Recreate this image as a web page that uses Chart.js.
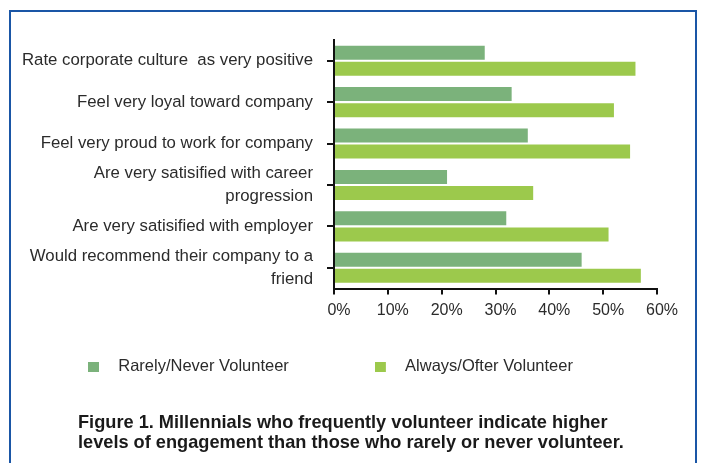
<!DOCTYPE html>
<html>
<head>
<meta charset="utf-8">
<script src="https://cdn.jsdelivr.net/npm/chart.js@4.4.1/dist/chart.umd.min.js"></script>
<style>
  html, body { margin: 0; padding: 0; background: #fff; }
  #frame { position: absolute; left: 9px; top: 10px; width: 688px; height: 520px; box-sizing: border-box; border: 2px solid #1a56a6; }
  #chart { position: absolute; left: 0; top: 0; }
</style>
</head>
<body>
<div id="frame"></div>
<canvas id="chart" width="701" height="463"></canvas>
<script>
const categories = [
  'Rate corporate culture  as very positive',
  'Feel very loyal toward company',
  'Feel very proud to work for company',
  ['Are very satisified with career', 'progression'],
  'Are very satisified with employer',
  ['Would recommend their company to a', 'friend'],
]
const rarelyNever = [28, 33, 36, 21, 32, 46]
const alwaysOften = [56, 52, 55, 37, 51, 57]
const seriesNames = ['Rarely/Never Volunteer', 'Always/Ofter Volunteer']
const seriesColors = ['#7bb27b', '#9cc94c']
const xTicks = [0, 10, 20, 30, 40, 50, 60]
const caption = [
  'Figure 1. Millennials who frequently volunteer indicate higher',
  'levels of engagement than those who rarely or never volunteer.',
]

const FONT = "'Liberation Sans', Arial, sans-serif"
const TEXT = '#2b2b2b'

// legend swatch: small square on the left of a wider transparent box,
// so the label text sits further from the square (as in the original)
function swatch(color) {
  const c = document.createElement('canvas')
  c.width = 22
  c.height = 10
  const g = c.getContext('2d')
  g.fillStyle = color
  g.fillRect(0, 0, 11, 10)
  return c
}

// legend and caption are placed by hand: the legend sits closer to the axis
// than Chart.js would put it, and the caption is indented past the y labels
const placeBoxes = {
  id: 'placeBoxes',
  afterLayout(chart) {
    const lg = chart.legend
    lg.left = 2
    lg.right = chart.width
    lg.top = 272.25
    lg.bottom = lg.top + 120
    chart.titleBlock.left = 78
  },
}

new Chart(document.getElementById('chart'), {
  type: 'bar',
  data: {
    labels: categories,
    datasets: [
      { label: seriesNames[0], data: rarelyNever, backgroundColor: seriesColors[0] },
      { label: seriesNames[1], data: alwaysOften, backgroundColor: seriesColors[1] },
    ],
  },
  plugins: [placeBoxes],
  options: {
    indexAxis: 'y',
    responsive: false,
    animation: false,
    categoryPercentage: 0.773,
    barPercentage: 0.875,
    layout: { padding: { left: 0, top: 40, right: 44, bottom: 0 } },
    plugins: {
      tooltip: { enabled: false },
      legend: {
        position: 'bottom',
        align: 'start',
        maxHeight: 50,
        labels: {
          color: TEXT,
          font: { family: FONT, size: 16.5 },
          usePointStyle: true,
          pointStyleWidth: 22,
          padding: 86,
          generateLabels(chart) {
            const items = Chart.defaults.plugins.legend.labels.generateLabels(chart)
            items.forEach((it, i) => { it.pointStyle = swatch(seriesColors[i]) })
            return items
          },
        },
      },
      title: {
        display: true,
        position: 'bottom',
        align: 'start',
        text: caption,
        color: '#1a1a1a',
        font: { family: FONT, size: 18.2, weight: 'bold', lineHeight: 20 / 18.2 },
        padding: { top: 43.5, bottom: 10 },
      },
    },
    scales: {
      y: {
        afterFit(scale) { scale.width = 334 },
        grid: { offset: false, drawOnChartArea: false, drawTicks: true, tickLength: 7, color: '#111', lineWidth: 2 },
        border: { display: true, color: '#111', width: 2 },
        ticks: {
          autoSkip: false,
          padding: 14,
          color: TEXT,
          font: { family: FONT, size: 16.8, lineHeight: 1.4 },
        },
      },
      x: {
        min: xTicks[0],
        max: xTicks[xTicks.length - 1],
        afterFit(scale) { scale.height = 31 },
        afterBuildTicks(scale) { scale.ticks = xTicks.map(v => ({ value: v })) },
        grid: { drawOnChartArea: false, drawTicks: true, tickLength: 6, color: '#111', lineWidth: 2 },
        border: { display: true, color: '#111', width: 2 },
        ticks: {
          padding: 6,
          labelOffset: 5,
          color: TEXT,
          font: { family: FONT, size: 16 },
          callback: v => v + '%',
        },
      },
    },
  },
})
</script>
</body>
</html>
